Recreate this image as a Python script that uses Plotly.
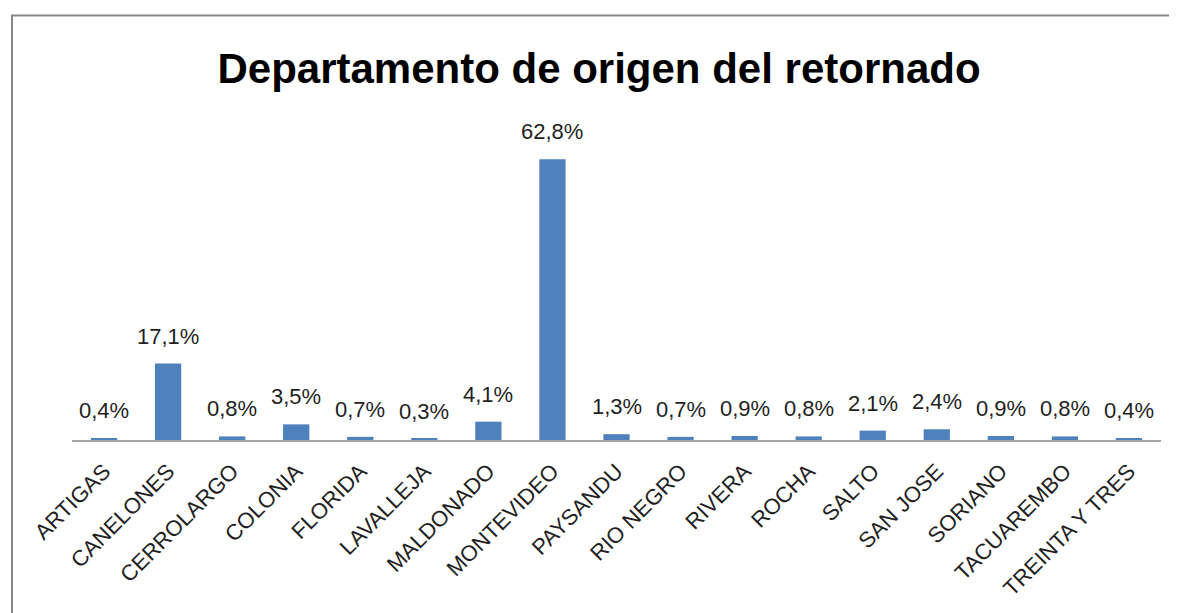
import plotly.graph_objects as go

departamentos = ["ARTIGAS", "CANELONES", "CERROLARGO", "COLONIA", "FLORIDA", "LAVALLEJA",
                 "MALDONADO", "MONTEVIDEO", "PAYSANDU", "RIO NEGRO", "RIVERA", "ROCHA",
                 "SALTO", "SAN JOSE", "SORIANO", "TACUAREMBO", "TREINTA Y TRES"]
porcentajes = [0.4, 17.1, 0.8, 3.5, 0.7, 0.3, 4.1, 62.8, 1.3, 0.7, 0.9, 0.8,
               2.1, 2.4, 0.9, 0.8, 0.4]
etiquetas = [f"{v:.1f}%".replace(".", ",") for v in porcentajes]

# page has an 8px body margin; figure is sized to fill the rest
W, H = 1169, 605
ml, mr, mt, mb = 64, 16, 119, 169
pw, ph = W - ml - mr, H - mt - mb

fig = go.Figure(go.Bar(
    x=departamentos, y=porcentajes,
    marker=dict(color="#4F81BD", line=dict(width=0)),
    hoverinfo="x+y",
))

for d, v, t in zip(departamentos, porcentajes, etiquetas):
    fig.add_annotation(x=d, y=v, text=t, showarrow=False, yanchor="bottom",
                       yshift=13, font=dict(family="Liberation Sans", size=22, color="#1F1F1F"))

def px_x(p):
    return (p - ml) / pw

def px_y(p):
    return (H - mb - p) / ph

fig.add_shape(type="rect", xref="paper", yref="paper",
              x0=px_x(4), x1=px_x(1164), y0=px_y(6), y1=px_y(640),
              line=dict(color="#878787", width=2), fillcolor="rgba(0,0,0,0)", layer="below")

fig.update_layout(
    width=W, height=H,
    margin=dict(l=ml, r=mr, t=mt, b=mb),
    paper_bgcolor="white", plot_bgcolor="white",
    bargap=0.59,
    showlegend=False,
    title=dict(text="<b>Departamento de origen del retornado</b>",
               x=591 / W, xanchor="center", y=1 - 60 / H, yanchor="middle",
               font=dict(family="Liberation Sans", size=42, color="black")),
    xaxis=dict(tickangle=-45, showline=True, linecolor="#A6A6A6", linewidth=1.5,
               ticks="", ticklabelstandoff=8,
               tickfont=dict(family="Liberation Sans", size=22, color="#1F1F1F"),
               showgrid=False),
    yaxis=dict(range=[0, 70], visible=False, showgrid=False),
)

fig.write_html("out.html")
